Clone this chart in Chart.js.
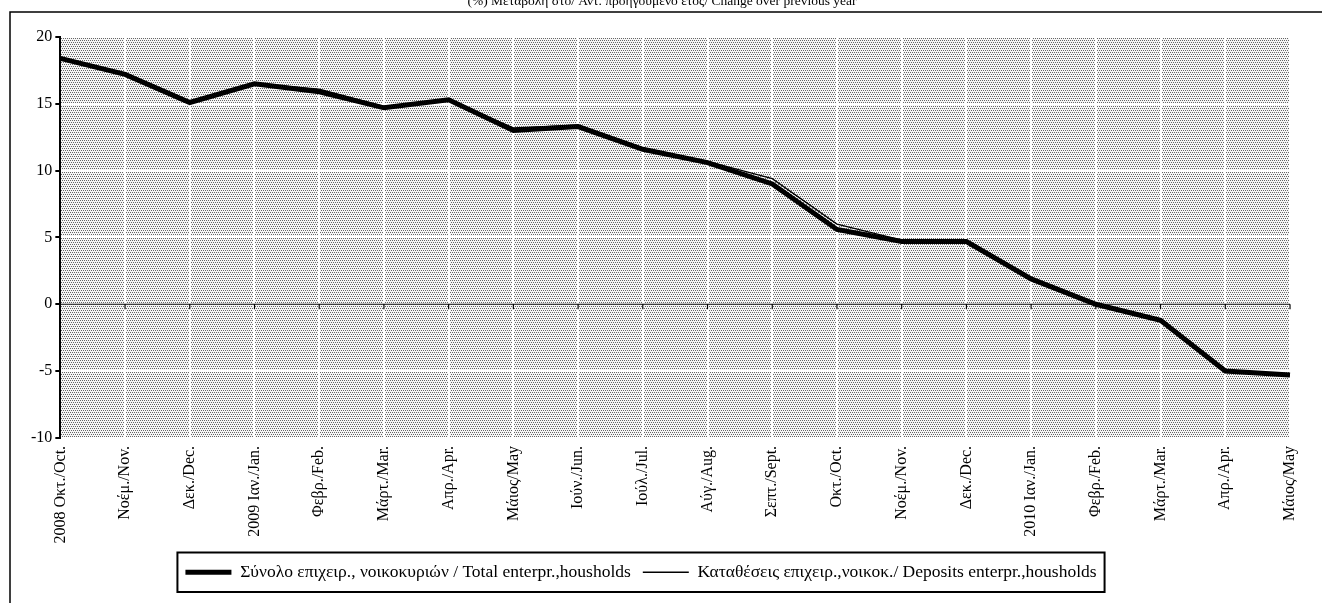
<!DOCTYPE html>
<html lang="el">
<head>
    <meta charset="UTF-8">
    <title>Καταθέσεις</title>
    <script src="https://cdn.jsdelivr.net/npm/chart.js@4"></script>
    <style>
        body { margin: 0; background: #fff; }
        #wrap { position: relative; width: 1322px; height: 603px; }
    </style>
</head>
<body>
<div id="wrap"><canvas id="myChart"></canvas></div>
<script>

    // Données
    let mois = [
        ['2008 Οκτ./Oct.'], ['Νοέμ./Nov.'], ['Δεκ./Dec.'], ['2009 Ιαν./Jan.'], ['Φεβρ./Feb.'],
        ['Μάρτ./Mar.'], ['Απρ./Apr.'], ['Μάιος/May'], ['Ιούν./Jun.'], ['Ιούλ./Jul.'],
        ['Αύγ./Aug.'], ['Σεπτ./Sept.'], ['Οκτ./Oct.'], ['Νοέμ./Nov.'], ['Δεκ./Dec.'],
        ['2010 Ιαν./Jan.'], ['Φεβρ./Feb.'], ['Μάρτ./Mar.'], ['Απρ./Apr.'], ['Μάιος/May']
    ];
    let totalEntreprMenages = [18.4, 17.2, 15.1, 16.5, 15.9, 14.7, 15.3, 13.0, 13.3, 11.6,
        10.6, 9.0, 5.6, 4.7, 4.7, 1.9, 0.0, -1.2, -5.0, -5.3];
    let depotsEntreprMenages = [18.4, 17.3, 15.2, 16.5, 16.1, 14.8, 15.3, 13.2, 13.4, 11.7,
        10.7, 9.4, 6.0, 4.8, 4.7, 1.9, 0.0, -1.2, -5.0, -5.3];
    let ticksY = [-10, -5, 0, 5, 10, 15, 20];
    let titre = '(%) Μεταβολή στο/ Αντ. προηγούμενο έτος/ Change over previous year';

    let police = 'Liberation Serif';
    let decalageLegende = 18;

    // Motif pointillé du fond
    let genereMotif = () => {
        let c = document.createElement('canvas');
        c.width = 4;
        c.height = 4;
        let cx = c.getContext('2d');
        cx.fillStyle = '#f6f6f6';
        cx.fillRect(0, 0, 4, 4);
        cx.fillStyle = '#666';
        cx.fillRect(0, 0, 1, 1);
        cx.fillRect(2, 0, 1, 1);
        cx.fillRect(1, 2, 1, 1);
        cx.fillRect(3, 2, 1, 1);
        return cx.createPattern(c, 'repeat');
    };

    let decor = {
        id: 'decor',
        afterLayout: (chart) => {
            // légende décalée vers la gauche comme sur l'original
            chart.legend.left -= decalageLegende;
            chart.legend.right -= decalageLegende;
        },
        beforeDraw: (chart) => {
            let ctx = chart.ctx;
            let a = chart.chartArea;
            ctx.save();
            // cadre
            ctx.strokeStyle = '#000';
            ctx.lineWidth = 1.5;
            ctx.beginPath();
            ctx.moveTo(10, 603);
            ctx.lineTo(10, 12);
            ctx.lineTo(1322, 12);
            ctx.stroke();
            // titre coupé en haut
            ctx.fillStyle = '#000';
            ctx.font = '13.5px "' + police + '"';
            ctx.textAlign = 'center';
            ctx.textBaseline = 'middle';
            ctx.fillText(titre, 662, 1);
            // fond pointillé
            ctx.fillStyle = genereMotif();
            ctx.fillRect(a.left, a.top, a.right - a.left, a.bottom - a.top);
            ctx.restore();
        },
        beforeDatasetsDraw: (chart) => {
            let ctx = chart.ctx;
            let a = chart.chartArea;
            let y0 = chart.scales.y.getPixelForValue(0);
            ctx.save();
            ctx.strokeStyle = '#000';
            ctx.lineWidth = 1.2;
            ctx.beginPath();
            ctx.moveTo(a.left, y0);
            ctx.lineTo(a.right, y0);
            mois.forEach((m, i) => {
                let x = chart.scales.x.getPixelForValue(i);
                ctx.moveTo(x, y0);
                ctx.lineTo(x, y0 + 5);
            });
            ctx.stroke();
            ctx.restore();
        },
        afterDraw: (chart) => {
            let lg = chart.legend;
            let boxes = lg.legendHitBoxes;
            if (!boxes || !boxes.length) return;
            let pad = lg.options.labels.padding;
            let largeurLigne = boxes.reduce((s, b) => s + b.width, 0) + pad * (boxes.length - 1);
            let x0 = (lg.left + pad + lg.right - lg.lineWidths[0]) / 2;
            let ctx = chart.ctx;
            let gauche = x0 - 8;
            let droite = x0 + largeurLigne + 8;
            let haut = lg.top + 1;
            let bas = lg.top + pad * 2 + boxes[0].height - 1;
            ctx.save();
            ctx.strokeStyle = '#000';
            ctx.lineWidth = 2;
            ctx.strokeRect(gauche, haut, droite - gauche, bas - haut);
            ctx.restore();
        }
    };

    let ctx = document.getElementById('myChart').getContext('2d');
    let chart = new Chart(ctx, {
        type: 'line',
        data: {
            labels: mois,
            datasets: [
                {
                    label: 'Σύνολο επιχειρ., νοικοκυριών / Total enterpr.,housholds',
                    data: totalEntreprMenages,
                    borderColor: '#000',
                    backgroundColor: '#000',
                    borderWidth: 5,
                    pointRadius: 0,
                    tension: 0,
                    fill: false
                },
                {
                    label: 'Καταθέσεις επιχειρ.,νοικοκ./ Deposits enterpr.,housholds',
                    data: depotsEntreprMenages,
                    borderColor: '#000',
                    backgroundColor: '#000',
                    borderWidth: 1.3,
                    pointRadius: 0,
                    tension: 0,
                    fill: false
                }
            ]
        },
        options: {
            responsive: true,
            maintainAspectRatio: false,
            animation: false,
            layout: { padding: { top: 37, left: 28, right: 32, bottom: 12 } },
            plugins: {
                title: { display: false },
                tooltip: { enabled: false },
                legend: {
                    position: 'bottom',
                    labels: {
                        color: '#000',
                        font: { family: police, size: 17.5 },
                        usePointStyle: true,
                        pointStyleWidth: 46,
                        pointStyle: 'line',
                        padding: 12
                    }
                }
            },
            scales: {
                x: {
                    offset: false,
                    grid: { color: '#fff', lineWidth: 2, drawTicks: false },
                    border: { display: false },
                    ticks: {
                        color: '#000',
                        font: { family: police, size: 16 },
                        minRotation: 90,
                        maxRotation: 90,
                        autoSkip: false,
                        padding: 8
                    }
                },
                y: {
                    min: ticksY[0],
                    max: ticksY[ticksY.length - 1],
                    afterBuildTicks: (axis) => {
                        axis.ticks = ticksY.map(v => ({ value: v }));
                    },
                    grid: { color: '#fff', lineWidth: 2, tickColor: '#000', tickLength: 5, tickWidth: 2 },
                    border: { display: true, color: '#000', width: 2 },
                    ticks: {
                        color: '#000',
                        font: { family: police, size: 16 },
                        padding: 3
                    }
                }
            }
        },
        plugins: [decor]
    });

</script>
</body>
</html>
